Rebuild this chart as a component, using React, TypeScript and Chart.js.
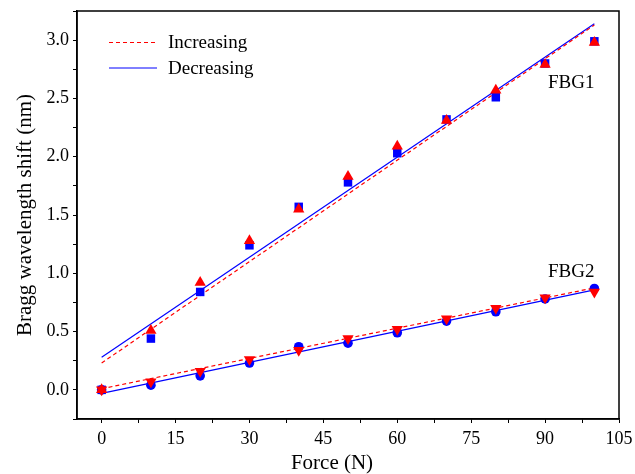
import React, { useEffect, useRef } from "react";
import { Chart, registerables } from "chart.js";

Chart.register(...registerables);

const forces = [0, 10, 20, 30, 40, 50, 60, 70, 80, 90, 100];
const fbg1Increasing = [0, 0.51, 0.92, 1.28, 1.55, 1.83, 2.09, 2.31, 2.57, 2.79, 2.98];
const fbg1Decreasing = [0, 0.44, 0.84, 1.24, 1.57, 1.78, 2.03, 2.32, 2.51, 2.8, 2.99];
const fbg2Increasing = [0, 0.07, 0.16, 0.26, 0.34, 0.44, 0.52, 0.61, 0.7, 0.79, 0.84];
const fbg2Decreasing = [0, 0.04, 0.12, 0.23, 0.37, 0.4, 0.49, 0.59, 0.67, 0.78, 0.87];

const fitX = [0, 100];
const fbg1FitIncreasing = [0.23, 3.13];
const fbg1FitDecreasing = [0.28, 3.14];
const fbg2FitIncreasing = [0.01, 0.875];
const fbg2FitDecreasing = [-0.03, 0.857];

const xTicks = [0, 7.5, 15, 22.5, 30, 37.5, 45, 52.5, 60, 67.5, 75, 82.5, 90, 97.5, 105];
const xLabeled = [0, 15, 30, 45, 60, 75, 90, 105];
const yTicks = [-0.25, 0, 0.25, 0.5, 0.75, 1, 1.25, 1.5, 1.75, 2, 2.25, 2.5, 2.75, 3, 3.25];
const yLabeled = [0, 0.5, 1, 1.5, 2, 2.5, 3];

const legendLabels = ["Increasing", "Decreasing"];
const xTitle = "Force (N)";
const yTitle = "Bragg wavelength shift (nm)";
const fbgLabels = ["FBG1", "FBG2"];

const RED = "#ff0000";
const BLUE = "#0000ff";
const FONT = "'Liberation Serif', 'Times New Roman', serif";

const pts = (xs: number[], ys: number[]) => xs.map((x, i) => ({ x, y: ys[i] }));

export default function App() {
  const ref = useRef<HTMLCanvasElement | null>(null);

  useEffect(() => {
    document.body.style.margin = "0";
    const canvas = ref.current;
    if (!canvas) return;

    const overlay = {
      id: "overlay",
      afterDraw(chart: any) {
        const { ctx, chartArea } = chart;
        ctx.save();
        // frame
        ctx.strokeStyle = "#000";
        ctx.lineWidth = 1.5;
        ctx.strokeRect(chartArea.left, chartArea.top, chartArea.right - chartArea.left, chartArea.bottom - chartArea.top);

        // legend
        ctx.font = `19px ${FONT}`;
        ctx.fillStyle = "#000";
        ctx.textBaseline = "middle";
        ctx.textAlign = "left";
        const legendYs = [42.5, 68];
        const styles = [
          { color: RED, dash: [4, 3] },
          { color: BLUE, dash: [] as number[] },
        ];
        legendLabels.forEach((lab, i) => {
          ctx.beginPath();
          ctx.setLineDash(styles[i].dash);
          ctx.strokeStyle = styles[i].color;
          ctx.lineWidth = 1;
          ctx.moveTo(109, legendYs[i]);
          ctx.lineTo(157, legendYs[i]);
          ctx.stroke();
          ctx.setLineDash([]);
          ctx.fillText(lab, 168, legendYs[i] + 1);
        });

        // annotations
        ctx.font = `19px ${FONT}`;
        ctx.textAlign = "left";
        ctx.fillText(fbgLabels[0], 548, 83);
        ctx.fillText(fbgLabels[1], 548, 272);

        // axis titles
        ctx.font = `21px ${FONT}`;
        ctx.textAlign = "center";
        ctx.textBaseline = "middle";
        ctx.fillText(xTitle, 332, 463);
        ctx.save();
        ctx.translate(25, (chartArea.top + chartArea.bottom) / 2);
        ctx.rotate(-Math.PI / 2);
        ctx.fillText(yTitle, 0, 0);
        ctx.restore();
        ctx.restore();
      },
    };

    const chart = new Chart(canvas, {
      type: "scatter",
      data: {
        datasets: [
          {
            label: "FBG1 increasing",
            data: pts(forces, fbg1Increasing),
            pointStyle: "triangle",
            pointRadius: 6.5,
            backgroundColor: RED,
            borderColor: RED,
            borderWidth: 0,
            order: 1,
          },
          {
            label: "FBG1 decreasing",
            data: pts(forces, fbg1Decreasing),
            pointStyle: "rect",
            pointRadius: 6,
            backgroundColor: BLUE,
            borderColor: BLUE,
            borderWidth: 0,
            order: 2,
          },
          {
            label: "FBG2 increasing",
            data: pts(forces, fbg2Increasing),
            pointStyle: "triangle",
            rotation: 180,
            pointRadius: 6.5,
            backgroundColor: RED,
            borderColor: RED,
            borderWidth: 0,
            order: 1,
          },
          {
            label: "FBG2 decreasing",
            data: pts(forces, fbg2Decreasing),
            pointStyle: "circle",
            pointRadius: 4.8,
            backgroundColor: BLUE,
            borderColor: BLUE,
            borderWidth: 0,
            order: 2,
          },
          {
            label: "FBG1 fit increasing",
            data: pts(fitX, fbg1FitIncreasing),
            showLine: true,
            pointRadius: 0,
            borderColor: RED,
            borderWidth: 1.2,
            borderDash: [4, 3],
            order: 3,
          },
          {
            label: "FBG1 fit decreasing",
            data: pts(fitX, fbg1FitDecreasing),
            showLine: true,
            pointRadius: 0,
            borderColor: BLUE,
            borderWidth: 1.2,
            order: 3,
          },
          {
            label: "FBG2 fit increasing",
            data: pts(fitX, fbg2FitIncreasing),
            showLine: true,
            pointRadius: 0,
            borderColor: RED,
            borderWidth: 1.2,
            borderDash: [4, 3],
            order: 3,
          },
          {
            label: "FBG2 fit decreasing",
            data: pts(fitX, fbg2FitDecreasing),
            showLine: true,
            pointRadius: 0,
            borderColor: BLUE,
            borderWidth: 1.2,
            order: 3,
          },
        ] as any,
      },
      options: {
        animation: false,
        responsive: false,
        maintainAspectRatio: false,
        layout: { padding: { top: 11, right: 16, left: 0, bottom: 0 } },
        plugins: {
          legend: { display: false },
          tooltip: { enabled: false },
        },
        scales: {
          x: {
            type: "linear",
            min: -5,
            max: 105,
            afterBuildTicks: (axis: any) => {
              axis.ticks = xTicks.map((v) => ({ value: v }));
            },
            afterFit: (axis: any) => {
              axis.height = 55;
              axis.paddingLeft = 0;
              axis.paddingRight = 0;
            },
            ticks: {
              autoSkip: false,
              maxRotation: 0,
              padding: 5,
              color: "#000",
              font: { family: FONT, size: 18 },
              callback: (v: any) => (xLabeled.includes(Number(v)) ? String(v) : ""),
            },
            grid: {
              drawOnChartArea: false,
              drawTicks: true,
              tickLength: 4,
              color: "#000",
              lineWidth: 1,
            },
            border: { display: true, color: "#000", width: 1.5 },
          },
          y: {
            type: "linear",
            min: -0.25,
            max: 3.25,
            afterBuildTicks: (axis: any) => {
              axis.ticks = yTicks.map((v) => ({ value: v }));
            },
            afterFit: (axis: any) => {
              axis.width = 77;
              axis.paddingTop = 0;
              axis.paddingBottom = 0;
            },
            ticks: {
              autoSkip: false,
              padding: 4,
              color: "#000",
              font: { family: FONT, size: 18 },
              callback: (v: any) => (yLabeled.includes(Number(v)) ? Number(v).toFixed(1) : ""),
            },
            grid: {
              drawOnChartArea: false,
              drawTicks: true,
              tickLength: 4,
              color: "#000",
              lineWidth: 1,
            },
            border: { display: true, color: "#000", width: 1.5 },
          },
        },
      },
      plugins: [overlay],
    } as any);

    return () => chart.destroy();
  }, []);

  return (
    <div style={{ width: 635, height: 474, background: "#fff" }}>
      <canvas ref={ref} width={635} height={474} style={{ display: "block" }} />
    </div>
  );
}
